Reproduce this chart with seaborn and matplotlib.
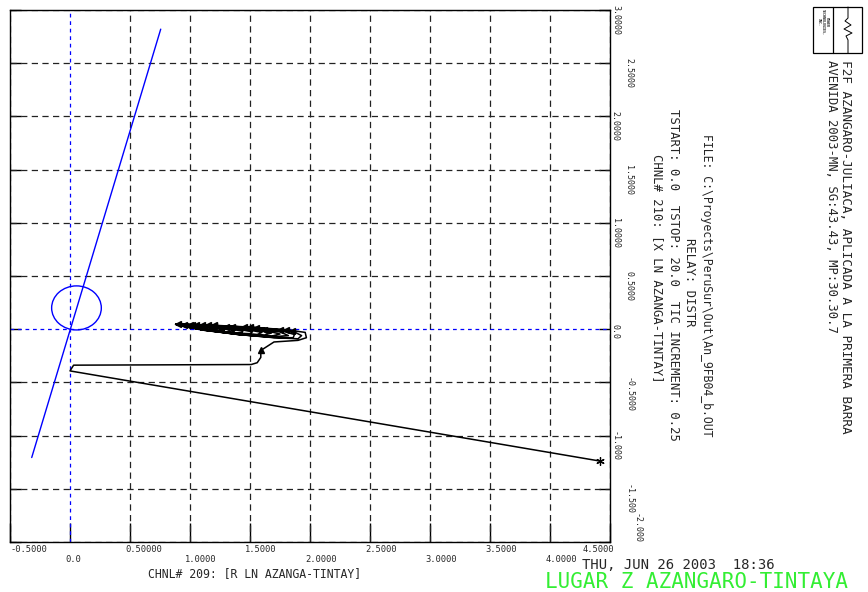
"""
R-X impedance trajectory plot (distance relay) redrawn with seaborn + matplotlib
"""
import seaborn as sns
import matplotlib.pyplot as plt
from matplotlib.patches import Circle, Rectangle
from matplotlib.lines import Line2D
import matplotlib.transforms as mtransforms

# ---- data ----------------------------------------------------------------
# relay characteristic: line through origin and mho circle
char_r = [-0.319, 0.756]
char_x = [-1.206, 2.82]
mho_center = (0.054, 0.200)
mho_radius = 0.207

# apparent impedance trajectory (R, X) in ohms
traj_r = [4.42, 0.00, 0.03, 1.51, 1.56, 1.59, 1.59,
          1.70, 1.90, 1.97, 1.96, 1.80, 1.50, 1.20, 0.90,
          1.10, 1.40, 1.70, 1.90, 1.93, 1.85, 1.55, 1.20, 0.89,
          1.10, 1.40, 1.70, 1.86, 1.87, 1.75, 1.45, 1.15, 0.90,
          1.12, 1.45, 1.70, 1.82, 1.75, 1.50, 1.15, 0.89,
          1.15, 1.45, 1.68, 1.75, 1.62, 1.35, 1.05, 0.90,
          1.15, 1.42, 1.62, 1.68, 1.55, 1.30, 1.00, 0.89,
          1.12, 1.40, 1.56, 1.60, 1.45, 1.20, 0.90,
          1.10, 1.35, 1.50, 1.52, 1.38, 1.15, 0.89,
          1.10, 1.32, 1.43, 1.44, 1.30, 1.10, 0.90,
          1.08, 1.28, 1.36, 1.37, 1.22, 1.02, 0.89,
          1.05, 1.22, 1.29, 1.28, 1.15, 0.98, 0.88,
          1.03, 1.16, 1.22, 1.20, 1.08, 0.95, 0.88,
          1.00, 1.10, 1.15, 1.12, 1.02, 0.88,
          0.98, 1.05, 1.08, 1.05, 0.95, 0.88,
          0.95, 1.00, 1.02, 0.98, 0.90]
traj_x = [-1.24, -0.392, -0.338, -0.332, -0.315, -0.265, -0.20,
          -0.12, -0.105, -0.08, -0.03, -0.005, 0.02, 0.037, 0.047,
          -0.005, -0.05, -0.08, -0.09, -0.06, -0.015, 0.015, 0.035, 0.047,
          -0.008, -0.05, -0.078, -0.08, -0.05, -0.01, 0.02, 0.037, 0.046,
          -0.01, -0.055, -0.07, -0.06, -0.025, 0.012, 0.036, 0.047,
          -0.012, -0.05, -0.065, -0.045, -0.01, 0.022, 0.04, 0.046,
          -0.01, -0.045, -0.055, -0.035, -0.005, 0.025, 0.042, 0.047,
          -0.008, -0.04, -0.05, -0.03, 0.0, 0.03, 0.047,
          -0.005, -0.035, -0.042, -0.025, 0.005, 0.032, 0.047,
          -0.004, -0.03, -0.035, -0.02, 0.01, 0.035, 0.046,
          0.0, -0.025, -0.028, -0.015, 0.015, 0.038, 0.047,
          0.005, -0.018, -0.02, -0.008, 0.02, 0.04, 0.047,
          0.01, -0.01, -0.012, 0.0, 0.025, 0.042, 0.047,
          0.015, -0.003, -0.005, 0.008, 0.03, 0.047,
          0.02, 0.005, 0.005, 0.018, 0.035, 0.047,
          0.025, 0.015, 0.018, 0.03, 0.042]

# small direction arrows along the trajectory
arrow_r = [1.80, 1.50, 1.20, 1.85, 1.55, 1.75, 1.45, 1.15, 1.62, 1.35, 1.05,
           1.30, 1.00, 1.20, 1.10, 1.02, 0.95, 0.90]
arrow_x = [-0.005, 0.02, 0.037, -0.015, 0.015, -0.01, 0.02, 0.037, -0.01, 0.022, 0.04,
           0.025, 0.042, 0.03, 0.035, 0.038, 0.042, 0.046]
turn_r = [1.59]
turn_x = [-0.20]

# axis ticks and their labels
r_ticks = [-0.5, 0.0, 0.5, 1.0, 1.5, 2.0, 2.5, 3.0, 3.5, 4.0, 4.5]
r_labels = ['-0.5000', '0.0', '0.50000', '1.0000', '1.5000', '2.0000',
            '2.5000', '3.0000', '3.5000', '4.0000', '4.5000']
x_ticks = [3.0, 2.5, 2.0, 1.5, 1.0, 0.5, 0.0, -0.5, -1.0, -1.5, -2.0]
x_labels = ['3.0000', '2.5000', '2.0000', '1.5000', '1.0000', '0.5000',
            '0.0', '-0.5000', '-1.000', '-1.500', '-2.000']

# ---- figure --------------------------------------------------------------
sns.set_style('white')
plt.rcParams['font.family'] = ['DejaVu Sans Mono']

W, H = 868, 592
fig = plt.figure(figsize=(W / 100, H / 100), dpi=100)
ax = fig.add_axes([10 / W, 50 / H, 600 / W, 532 / H])
ax.set_xlim(-0.5, 4.5)
ax.set_ylim(-2.0, 3.0)

# grid, zero axes in blue
for t in r_ticks:
    if t == 0.0:
        ax.axvline(t, color='blue', lw=0.9, ls=(0, (3, 3)), zorder=1)
    else:
        ax.axvline(t, color='#222222', lw=0.9, ls=(0, (5, 3.5)), zorder=1)
for t in x_ticks:
    if t == 0.0:
        ax.axhline(t, color='blue', lw=0.9, ls=(0, (3, 3)), zorder=1)
    else:
        ax.axhline(t, color='#222222', lw=0.9, ls=(0, (5, 3.5)), zorder=1)

ax.set_xticks(r_ticks)
ax.set_yticks(x_ticks)
ax.set_xticklabels([])
ax.set_yticklabels([])
ax.tick_params(axis='x', direction='in', length=14, width=1, color='black', bottom=True)
ax.tick_params(axis='y', direction='in', length=8, width=1, color='black',
               left=True, right=True)
for s in ax.spines.values():
    s.set_color('black')
    s.set_linewidth(1)

# relay characteristic
sns.lineplot(x=char_r, y=char_x, sort=False, estimator=None, color='blue', lw=1, ax=ax)
ax.add_patch(Circle(mho_center, mho_radius, fill=False, edgecolor='blue', lw=1))

# trajectory
sns.lineplot(x=traj_r, y=traj_x, sort=False, estimator=None, color='black', lw=1.1, ax=ax)
ax.plot(arrow_r, arrow_x, ls='none', marker='<', ms=4, color='black')
ax.plot(turn_r, turn_x, ls='none', marker='^', ms=4, color='black')
ax.plot(traj_r[:1], traj_x[:1], ls='none', marker=(6, 2, 0), ms=6, mew=0.9, color='black')

# bottom tick labels in two staggered rows
trx = mtransforms.blended_transform_factory(ax.transData, ax.transAxes)
for i, (t, lab) in enumerate(zip(r_ticks, r_labels)):
    yy = -0.006 if i % 2 == 0 else -0.024
    if i == 0:
        ax.text(t, yy, lab, transform=trx, ha='left', va='top', fontsize=6.3, clip_on=False)
    elif i == len(r_ticks) - 1:
        ax.text(t + 0.03, yy, lab, transform=trx, ha='right', va='top', fontsize=6.3,
                clip_on=False)
    else:
        ax.text(t - 0.04, yy, lab, transform=trx, ha='left', va='top', fontsize=6.3,
                clip_on=False)

# right tick labels, rotated, staggered
try_ = mtransforms.blended_transform_factory(ax.transAxes, ax.transData)
for i, (t, lab) in enumerate(zip(x_ticks, x_labels)):
    xx = 1.009 if i % 2 == 0 else 1.031
    yy = t + 0.047
    if i == len(x_ticks) - 1:
        xx = 1.045
        yy = t + 0.27
    ax.text(xx, yy, lab, transform=try_, rotation=-90, ha='center', va='top',
            fontsize=6, clip_on=False)


def ftext(x, y, s, **kw):
    fig.text(x / W, 1 - y / H, s, **kw)


ftext(255, 574, 'CHNL# 209: [R LN AZANGA-TINTAY]', ha='center', va='center', fontsize=8.3)
ftext(582, 565, 'THU, JUN 26 2003  18:36', ha='left', va='center', fontsize=10)
ftext(545, 582, 'LUGAR Z AZANGARO-TINTAYA', ha='left', va='center', fontsize=15,
      color='#33ee33')

ftext(706, 285, 'FILE: C:\\Proyects\\PeruSur\\Out\\An_9FB04_b.OUT', rotation=-90,
      ha='center', va='center', fontsize=8.3)
ftext(690, 282, 'RELAY: DISTR', rotation=-90, ha='center', va='center', fontsize=8.8)
ftext(673, 275, 'TSTART: 0.0  TSTOP: 20.0  TIC INCREMENT: 0.25', rotation=-90,
      ha='center', va='center', fontsize=8.8)
ftext(657, 268, 'CHNL# 210: [X LN AZANGA-TINTAY]', rotation=-90,
      ha='center', va='center', fontsize=8.8)
ftext(831, 60, 'AVENIDA 2003-MN, SG:43.43, MP:30.30.7', rotation=-90,
      ha='center', va='top', fontsize=8.8)
ftext(846, 60, 'F2F AZANGARO-JULIACA, APLICADA A LA PRIMERA BARRA', rotation=-90,
      ha='center', va='top', fontsize=9.2)

# logo box
fig.patches.append(Rectangle((813 / W, 1 - 53 / H), 49 / W, 46 / H, fill=False,
                             edgecolor='black', lw=0.9, transform=fig.transFigure))
fig.lines.append(Line2D([833 / W, 833 / W], [1 - 7 / H, 1 - 53 / H], color='black',
                        lw=0.9, transform=fig.transFigure))
ftext(823, 9, 'POWER\nTECHNOLOGIES,\nINC.', rotation=-90, ha='center', va='top',
      fontsize=2.4, linespacing=1.0, weight='bold')
sq_x = [848, 848, 845, 851, 844, 852, 846, 848, 848]
sq_y = [7, 18, 21, 25, 29, 33, 36, 40, 53]
fig.lines.append(Line2D([v / W for v in sq_x], [1 - v / H for v in sq_y], color='black',
                        lw=0.7, transform=fig.transFigure))

fig.savefig('out.png', dpi=100)
